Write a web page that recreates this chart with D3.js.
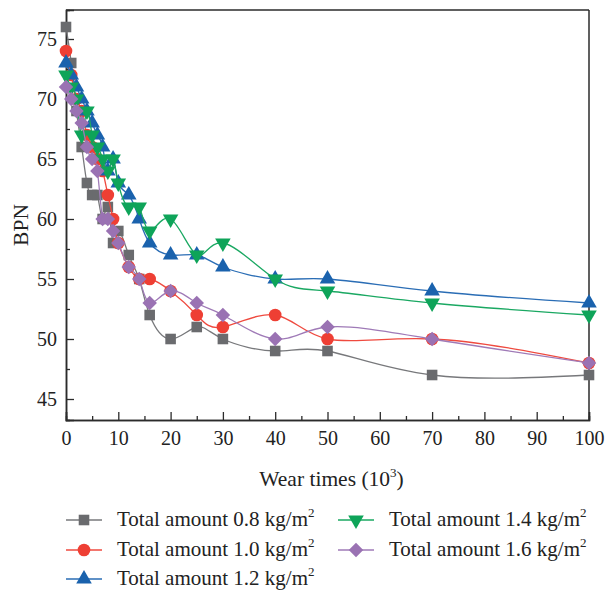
<!DOCTYPE html>
<html>
<head>
<meta charset="utf-8">
<script src="https://cdn.jsdelivr.net/npm/d3@7"></script>
<style>
  html, body { margin: 0; padding: 0; background: #fff; }
  svg text { font-family: "Liberation Serif", "Times New Roman", serif; fill: #222; }
</style>
</head>
<body>
<svg id="chart" width="605" height="591"></svg>
<script>
// Wear times (10^3)
const wearTimes = [0, 1, 2, 3, 4, 5, 6, 7, 8, 9, 10, 12, 14, 16, 20, 25, 30, 40, 50, 70, 100];

// BPN per total amount
const bpn08 = [76, 73, 69, 66, 63, 62, 62, 60, 61, 58, 59, 57, 55, 52, 50, 51, 50, 49, 49, 47, 47];
const bpn10 = [74, 72, 70, 69, 67, 66, 65, 64, 62, 60, 58, 56, 55, 55, 54, 52, 51, 52, 50, 50, 48];
const bpn12 = [73, 72, 71, 70, 69, 68, 67, 66, 64, 65, 63, 62, 60, 58, 57, 57, 56, 55, 55, 54, 53];
const bpn14 = [72, 71, 70, 67, 69, 67, 66, 65, 64, 65, 63, 61, 61, 59, 60, 57, 58, 55, 54, 53, 52];
const bpn16 = [71, 70, 69, 68, 66, 65, 64, 60, 60, 59, 58, 56, 55, 53, 54, 53, 52, 50, 51, 50, 48];

const seriesLabels = ["0.8", "1.0", "1.2", "1.4", "1.6"];
const xTicks = [0, 10, 20, 30, 40, 50, 60, 70, 80, 90, 100];
const yTicks = [45, 50, 55, 60, 65, 70, 75];

const series = [
  { name: seriesLabels[0], values: bpn08, color: "#6a6b6e", line: "#77787b", symbol: d3.symbolSquare, size: 112, rot: 0 },
  { name: seriesLabels[1], values: bpn10, color: "#ee3f34", line: "#ef4a3f", symbol: d3.symbolCircle, size: 125, rot: 0 },
  { name: seriesLabels[2], values: bpn12, color: "#1a62ad", line: "#2a6db5", symbol: d3.symbolTriangle, size: 105, rot: 0 },
  { name: seriesLabels[3], values: bpn14, color: "#0ea459", line: "#1aa862", symbol: d3.symbolTriangle, size: 105, rot: 180 },
  { name: seriesLabels[4], values: bpn16, color: "#9a72b3", line: "#9f7ab7", symbol: d3.symbolSquare, size: 105, rot: 45 }
];

const svg = d3.select("#chart");
const plotL = 66, plotR = 589, plotT = 10, plotB = 420;

const x = d3.scaleLinear().domain([0, 100]).range([plotL, plotR]);
const y = d3.scaleLinear().domain([43.25, 77.4167]).range([plotB, plotT]);

const axisColor = "#2b2b2b";
const tickFont = 20;
const textFont = 21;

// frame: top and right edges
svg.append("line").attr("x1", plotL).attr("x2", plotR).attr("y1", plotT).attr("y2", plotT)
  .attr("stroke", axisColor).attr("stroke-width", 1.5);
svg.append("line").attr("x1", plotR).attr("x2", plotR).attr("y1", plotT).attr("y2", plotB)
  .attr("stroke", axisColor).attr("stroke-width", 1.5);

// bottom axis, ticks pointing inward
const xAxis = svg.append("g").attr("transform", `translate(0,${plotB})`);
xAxis.call(d3.axisBottom(x).tickValues(d3.range(5, 100, 10)).tickSize(-4).tickFormat(""));
xAxis.append("g").call(d3.axisBottom(x).tickValues(xTicks).tickSize(-8).tickPadding(11).tickFormat(d3.format("d")));
xAxis.selectAll(".domain").attr("stroke", axisColor).attr("stroke-width", 1.5);
xAxis.selectAll(".tick line").attr("stroke", axisColor).attr("stroke-width", 1.3);
xAxis.selectAll(".tick text").attr("font-size", tickFont).attr("fill", "#222")
  .attr("font-family", "Liberation Serif, serif");

// left axis, ticks pointing inward
const yAxis = svg.append("g").attr("transform", `translate(${plotL},0)`);
yAxis.call(d3.axisLeft(y).tickValues(d3.range(45, 77.5, 2.5).filter(v => v % 5 !== 0)).tickSize(-4).tickFormat(""));
yAxis.append("g").call(d3.axisLeft(y).tickValues(yTicks).tickSize(-8).tickPadding(9).tickFormat(d3.format("d")));
yAxis.selectAll(".domain").attr("stroke", axisColor).attr("stroke-width", 1.5);
yAxis.selectAll(".tick line").attr("stroke", axisColor).attr("stroke-width", 1.3);
yAxis.selectAll(".tick text").attr("font-size", tickFont).attr("fill", "#222")
  .attr("font-family", "Liberation Serif, serif");

// axis titles
const xTitle = svg.append("text").attr("x", (plotL + plotR) / 2 + 4).attr("y", 486)
  .attr("text-anchor", "middle").attr("font-size", 21.5);
xTitle.append("tspan").text("Wear times (10");
xTitle.append("tspan").text("3").attr("font-size", 13).attr("dy", -9);
xTitle.append("tspan").text(")").attr("dy", 9);

svg.append("text").attr("transform", `translate(28,${(plotT + plotB) / 2 + 10}) rotate(-90)`)
  .attr("text-anchor", "middle").attr("font-size", 21.5).text("BPN");

// series: cubic spline through the points, then symbols
const line = d3.line()
  .x((d, i) => x(wearTimes[i]))
  .y(d => y(d))
  .curve(d3.curveNatural);

series.forEach(s => {
  const g = svg.append("g");
  g.append("path").datum(s.values).attr("d", line)
    .attr("fill", "none").attr("stroke", s.line).attr("stroke-width", 1.3);
  g.selectAll("path.mark").data(s.values).join("path").attr("class", "mark")
    .attr("d", d3.symbol(s.symbol, s.size))
    .attr("transform", (d, i) => `translate(${x(wearTimes[i])},${y(d)}) rotate(${s.rot})`)
    .attr("fill", s.color);
});

// legend
const legendPos = [
  { lx: 66, ly: 520 }, { lx: 66, ly: 550 }, { lx: 66, ly: 579 },
  { lx: 338, ly: 520 }, { lx: 338, ly: 550 }
];
series.forEach((s, k) => {
  const p = legendPos[k];
  const g = svg.append("g").attr("transform", `translate(${p.lx},${p.ly})`);
  g.append("line").attr("x1", 0).attr("x2", 36).attr("y1", 0).attr("y2", 0)
    .attr("stroke", s.line).attr("stroke-width", 1.3);
  g.append("path").attr("d", d3.symbol(s.symbol, s.size))
    .attr("transform", `translate(18,0) rotate(${s.rot})`).attr("fill", s.color);
  const t = g.append("text").attr("x", 51).attr("y", 6).attr("font-size", textFont);
  t.append("tspan").text(`Total amount ${s.name} kg/m`);
  t.append("tspan").text("2").attr("font-size", 13).attr("dy", -9);
});
</script>
</body>
</html>
